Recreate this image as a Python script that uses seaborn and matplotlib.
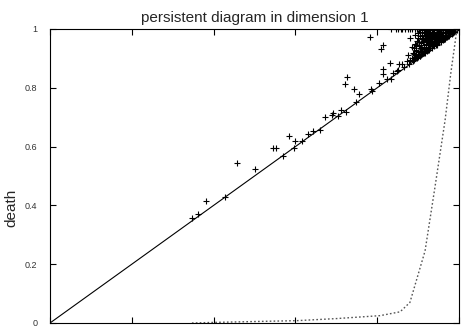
import matplotlib
matplotlib.use("Agg")
import matplotlib.pyplot as plt
import seaborn as sns
import pandas as pd

# ---- data ----
sparse_birth = [0.346, 0.363, 0.381, 0.427, 0.456, 0.500, 0.546, 0.552, 0.569, 0.584,
                0.599, 0.597, 0.616, 0.630, 0.644, 0.661, 0.672, 0.689, 0.692, 0.703,
                0.711, 0.724, 0.782, 0.815, 0.809, 0.727, 0.721, 0.743, 0.756, 0.786,
                0.788, 0.748, 0.805, 0.813, 0.813, 0.831, 0.839, 0.823, 0.834, 0.854,
                0.852, 0.866, 0.848]
sparse_death = [0.358, 0.371, 0.414, 0.429, 0.544, 0.524, 0.594, 0.594, 0.569, 0.635,
                0.618, 0.596, 0.618, 0.644, 0.652, 0.657, 0.701, 0.707, 0.714, 0.703,
                0.724, 0.719, 0.972, 0.946, 0.931, 0.838, 0.813, 0.797, 0.778, 0.797,
                0.789, 0.751, 0.817, 0.865, 0.846, 0.883, 0.851, 0.829, 0.831, 0.880,
                0.861, 0.872, 0.856]

cluster_birth = [
    0.833, 0.845, 0.851, 0.857, 0.861, 0.868, 0.875, 0.880, 0.885, 0.893, 0.897, 0.902,
    0.910, 0.918, 0.925, 0.933, 0.940, 0.948, 0.955, 0.962, 0.970, 0.978, 0.985, 0.992,
    0.910, 0.920, 0.930, 0.940, 0.950, 0.960, 0.970, 0.980, 0.990,
    0.905, 0.915, 0.922, 0.930, 0.938, 0.946, 0.953, 0.960, 0.968, 0.975, 0.982, 0.988,
    0.900, 0.915, 0.925, 0.935, 0.945, 0.955, 0.965, 0.975,
    0.893, 0.910, 0.920, 0.928, 0.936, 0.944, 0.951, 0.958, 0.966, 0.972, 0.978,
    0.905, 0.917, 0.928, 0.938, 0.947, 0.957, 0.966, 0.973,
    0.880, 0.900, 0.912, 0.924, 0.932, 0.940, 0.948, 0.956, 0.963, 0.968,
    0.910, 0.921, 0.930, 0.940, 0.949, 0.958, 0.963,
    0.897, 0.915, 0.927, 0.935, 0.943, 0.950, 0.957,
    0.902, 0.913, 0.925, 0.934, 0.942, 0.951,
    0.892, 0.908, 0.920, 0.930, 0.938, 0.945,
    0.896, 0.908, 0.919, 0.928, 0.937, 0.943,
    0.884, 0.902, 0.914, 0.925, 0.933, 0.938,
    0.890, 0.905, 0.915, 0.923, 0.930,
    0.895, 0.910, 0.920, 0.927,
    0.896, 0.907, 0.915, 0.922,
    0.888, 0.900, 0.912, 0.918,
    0.890, 0.902, 0.910,
    0.876, 0.895, 0.905, 0.908,
    0.893, 0.900,
    0.886, 0.898,
    0.880, 0.890,
    0.872, 0.888,
    0.860, 0.878,
    0.996, 0.990, 0.984, 0.979, 0.973, 0.965, 0.958,
    0.952, 0.945, 0.936, 0.926, 0.917, 0.906, 0.898,
    0.905, 0.915, 0.925, 0.935, 0.945, 0.955, 0.965, 0.975, 0.985,
    0.925, 0.935, 0.945, 0.955, 0.965, 0.975, 0.985, 0.995,
    0.927, 0.937, 0.947, 0.957, 0.967, 0.977, 0.987,
    0.932, 0.942, 0.952, 0.962, 0.972, 0.982,
    0.933, 0.943, 0.953, 0.963, 0.971,
    0.922, 0.932, 0.942, 0.952, 0.962,
]
cluster_death = [
    1.000, 1.000, 1.000, 1.000, 1.000, 1.000, 1.000, 1.000, 1.000, 1.000, 1.000, 1.000,
    1.000, 1.000, 1.000, 1.000, 1.000, 1.000, 1.000, 1.000, 1.000, 1.000, 1.000, 1.000,
    0.995, 0.995, 0.996, 0.995, 0.994, 0.995, 0.996, 0.995, 0.995,
    0.990, 0.990, 0.991, 0.989, 0.990, 0.991, 0.990, 0.989, 0.991, 0.990, 0.991, 0.992,
    0.985, 0.985, 0.986, 0.985, 0.984, 0.985, 0.986, 0.985,
    0.980, 0.981, 0.979, 0.980, 0.982, 0.980, 0.981, 0.979, 0.980, 0.981, 0.982,
    0.975, 0.975, 0.976, 0.975, 0.974, 0.975, 0.976, 0.975,
    0.970, 0.971, 0.969, 0.970, 0.972, 0.970, 0.971, 0.969, 0.970, 0.972,
    0.965, 0.965, 0.966, 0.965, 0.964, 0.965, 0.966,
    0.960, 0.961, 0.959, 0.960, 0.961, 0.960, 0.961,
    0.955, 0.955, 0.956, 0.955, 0.954, 0.955,
    0.950, 0.951, 0.949, 0.950, 0.951, 0.950,
    0.945, 0.945, 0.946, 0.945, 0.944, 0.945,
    0.940, 0.941, 0.939, 0.940, 0.941, 0.942,
    0.935, 0.935, 0.936, 0.935, 0.934,
    0.930, 0.931, 0.929, 0.930,
    0.925, 0.925, 0.926, 0.925,
    0.920, 0.921, 0.919, 0.920,
    0.915, 0.915, 0.914,
    0.910, 0.911, 0.909, 0.910,
    0.905, 0.905,
    0.900, 0.901,
    0.895, 0.895,
    0.890, 0.891,
    0.880, 0.881,
    0.998, 0.995, 0.993, 0.988, 0.985, 0.976, 0.966,
    0.965, 0.955, 0.946, 0.936, 0.926, 0.916, 0.905,
    0.907, 0.917, 0.927, 0.937, 0.947, 0.957, 0.967, 0.977, 0.987,
    0.998, 0.997, 0.998, 0.997, 0.998, 0.997, 0.998, 0.999,
    0.988, 0.987, 0.988, 0.987, 0.988, 0.987, 0.989,
    0.978, 0.977, 0.978, 0.977, 0.978, 0.983,
    0.968, 0.967, 0.968, 0.967, 0.974,
    0.958, 0.957, 0.958, 0.959, 0.964,
]

diag_x = [0.0, 1.0]
diag_y = [0.0, 1.0]

curve_x = [0.347, 0.40, 0.50, 0.604, 0.70, 0.807, 0.856, 0.880, 0.917, 0.941, 0.966, 0.980, 0.995]
curve_y = [0.000, 0.002, 0.005, 0.008, 0.015, 0.025, 0.038, 0.070, 0.245, 0.460, 0.690, 0.850, 1.000]

yticks = [0, 0.2, 0.4, 0.6, 0.8, 1]
ytick_labels = ["0", "0.2", "0.4", "0.6", "0.8", "1"]
xticks = [0, 0.2, 0.4, 0.6, 0.8, 1]

points = pd.DataFrame({
    "birth": sparse_birth + cluster_birth,
    "death": sparse_death + cluster_death,
})

# ---- plot ----
sns.set_theme(style="white")
plt.rcParams["font.family"] = ["Liberation Sans", "DejaVu Sans"]

fig = plt.figure(figsize=(4.61, 3.27), dpi=100)
ax = fig.add_axes([50 / 461, 4 / 327, 409 / 461, 294 / 327])

sns.lineplot(x=diag_x, y=diag_y, ax=ax, color="black", linewidth=0.8)
sns.lineplot(x=curve_x, y=curve_y, ax=ax, color="#555555", linewidth=1.0,
             linestyle=(0, (1.2, 1.6)), sort=False)
sns.scatterplot(data=points, x="birth", y="death", ax=ax, marker="+",
                color="black", s=16, linewidth=0.8)

ax.set_xlim(0, 1)
ax.set_ylim(0, 1)
ax.set_xticks(xticks)
ax.set_xticklabels([])
ax.set_yticks(yticks)
ax.set_yticklabels(ytick_labels)
ax.tick_params(direction="in", length=4, width=0.8, top=True, right=True,
               bottom=True, left=True, labelsize=6.5, pad=9, colors="black")
ax.tick_params(axis="y", labelcolor="#333333")
for sp in ax.spines.values():
    sp.set_color("black")
    sp.set_linewidth(0.8)

ax.set_xlabel("")
ax.set_ylabel("death", fontsize=11)
ax.yaxis.set_label_coords(-0.078, 0.39)
ax.set_title("persistent diagram in dimension 1", fontsize=11, pad=5)

fig.savefig("out.png", dpi=100)
